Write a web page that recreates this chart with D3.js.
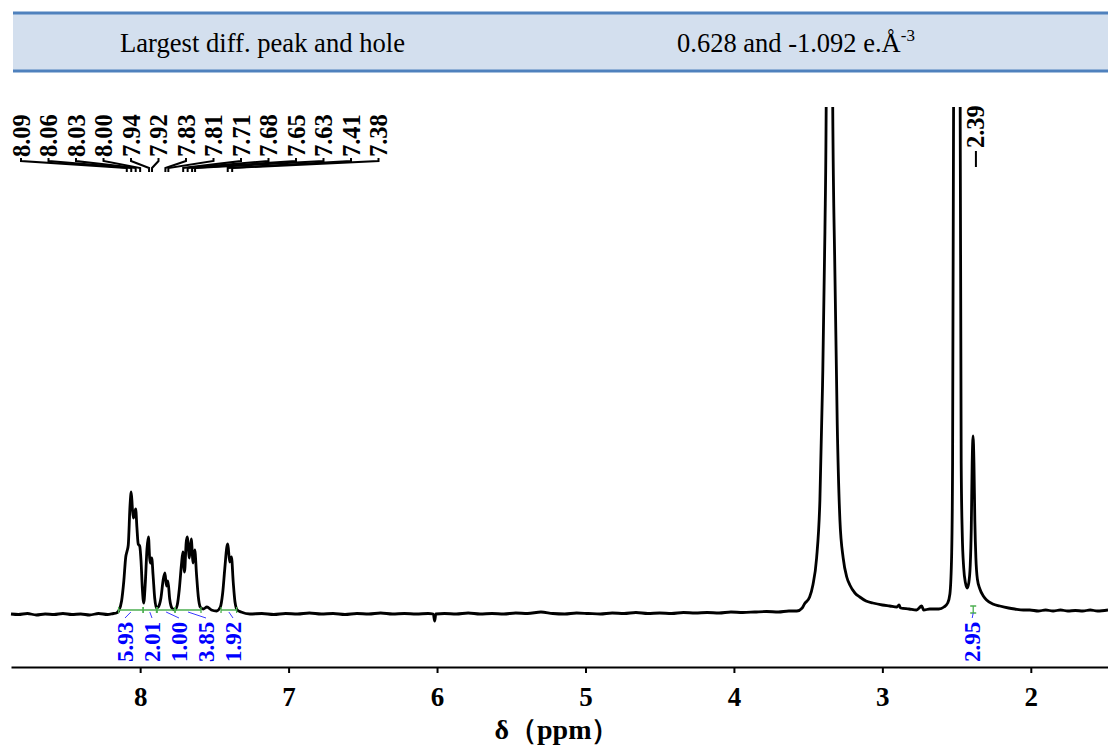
<!DOCTYPE html>
<html>
<head>
<meta charset="utf-8">
<script src="https://cdn.jsdelivr.net/npm/d3@7"></script>
<style>
  body { margin: 0; background: #fff; }
  svg { display: block; }
</style>
</head>
<body>
<svg id="chart" width="1108" height="747"></svg>
<script>
// ---- 1H NMR trace: chemical shift (ppm) and intensity ----
const shiftPpm = [
  8.87, 8.82, 8.76, 8.70, 8.64, 8.58, 8.52, 8.46, 8.40, 8.34, 8.28, 8.22, 8.18, 8.16,
  8.145, 8.125, 8.11, 8.097, 8.088, 8.080, 8.068, 8.060, 8.052, 8.045, 8.037, 8.030, 8.022, 8.013,
  8.003, 7.994, 7.985, 7.976, 7.966, 7.954, 7.944, 7.936, 7.930, 7.922, 7.913, 7.902, 7.890, 7.878,
  7.860, 7.845, 7.833, 7.823, 7.813, 7.801, 7.786, 7.766, 7.750, 7.736, 7.722, 7.712, 7.701, 7.690,
  7.683, 7.668, 7.656, 7.643, 7.632, 7.620, 7.608, 7.595, 7.575, 7.550, 7.520, 7.485, 7.460, 7.444,
  7.430, 7.416, 7.409, 7.397, 7.385, 7.373, 7.361, 7.346, 7.320,
  7.26, 7.18, 7.10, 7.02, 6.94, 6.86, 6.78, 6.70, 6.62, 6.54, 6.46, 6.38, 6.30, 6.22, 6.14, 6.06,
  6.025, 6.016, 6.008, 5.95, 5.87, 5.79, 5.71, 5.63, 5.55, 5.47, 5.39, 5.30, 5.22, 5.14, 5.06, 4.98,
  4.90, 4.82, 4.74, 4.66, 4.58, 4.50, 4.42, 4.34, 4.26, 4.18, 4.10, 4.02, 3.94, 3.86, 3.78, 3.70, 3.63,
  3.576, 3.54, 3.525, 3.49, 3.468, 3.443, 3.421, 3.403, 3.387, 3.378, 3.357, 3.335, 3.320, 3.304,
  3.286, 3.264, 3.240, 3.219, 3.185, 3.152, 3.11, 3.064, 3.00, 2.95, 2.902, 2.888, 2.877, 2.82, 2.77,
  2.735, 2.722, 2.68, 2.62, 2.585,
  2.56, 2.545, 2.533, 2.527, 2.520, 2.498, 2.476, 2.469, 2.462, 2.452, 2.440, 2.429, 2.418, 2.408,
  2.401, 2.395, 2.389, 2.383, 2.377, 2.370, 2.360, 2.343, 2.32, 2.298, 2.256, 2.209, 2.15, 2.108,
  2.05, 2.007, 1.95, 1.90, 1.85, 1.80, 1.75, 1.70, 1.65, 1.60, 1.55, 1.48
];
const intensity = [
  -1, -1.5, -0.5, -2, -1, -1.5, -0.5, -1.5, -1, -2, -0.5, -1.5, -0.5, 0,
  2, 12, 32, 56, 62, 68, 108, 121, 104, 95, 100, 104, 86, 69,
  67, 52, 24, 10, 28, 64, 76, 55, 50, 55, 38, 15, 5, 6,
  15, 33, 40, 27, 32, 14, 5, 3, 8, 24, 48, 61, 41, 70,
  76, 55, 74, 50, 63, 38, 16, 6, 4, 6, 3, 2, 6, 20,
  44, 66, 69, 51, 56, 31, 11, 3, 1,
  -1, -0.5, -1.5, -0.5, -1, 0, -1, -0.5, -1.5, -0.5, -1, 0, -1, -0.5, -1, -0.5,
  -1, -8, -1, -0.5, -1, 0, -1, -0.5, -1, 0, -0.5, 1, -0.5, -1, 0, -0.5,
  -1, 0, -0.5, 0.5, -0.5, 0, -0.5, 0.5, 0, 0.5, 0, 1, 0.5, 1, 1.5, 1, 2,
  2, 5, 9, 16, 28, 55, 112, 228, 381, 520, 2400, 520, 343, 189,
  93, 55, 36, 28, 20, 16, 12, 10, 8, 7, 6, 8, 5, 4, 3,
  7, 3, 4, 4, 6,
  10, 19, 60, 150, 520, 3000, 520, 150, 80, 45, 30, 25, 30, 48,
  85, 150, 177, 150, 92, 55, 34, 24, 17, 13, 9, 7, 5, 4,
  3, 3, 2, 3, 2, 3, 2, 2.5, 2, 3, 2, 3
];

// ---- peak picking ----
const multipletPeaks = ["8.09", "8.06", "8.03", "8.00", "7.94", "7.92", "7.83",
                        "7.81", "7.71", "7.68", "7.65", "7.63", "7.41", "7.38"];
const singletPeaks = ["2.39"];

// ---- integrals (ppm ranges and values) ----
const integralStart = [8.145, 7.980, 7.885, 7.765, 7.455];
const integralEnd   = [7.980, 7.890, 7.765, 7.590, 7.350];
const integralValue = ["5.93", "2.01", "1.00", "3.85", "1.92"];
const methylIntegral = { start: 2.400, end: 2.376, value: "2.95" };

// ---- axis ----
const xTickValues = [8, 7, 6, 5, 4, 3, 2];
const xTitle = "δ（ppm）";

// ---- table row above the spectrum ----
const rowLabel = "Largest diff. peak and hole";
const rowValue = "0.628 and -1.092 e.Å";
const rowValueSup = "-3";

// ================= drawing =================
const W = 1108, H = 747;
const svg = d3.select("#chart");
const serif = "'Liberation Serif', 'Times New Roman', serif";

// table strip
const band = svg.append("g");
band.append("rect").attr("x", 13).attr("y", 13).attr("width", W - 13).attr("height", 58)
  .attr("fill", "#d3dfee");
band.append("line").attr("x1", 13).attr("x2", W).attr("y1", 13).attr("y2", 13)
  .attr("stroke", "#4f81bd").attr("stroke-width", 3);
band.append("line").attr("x1", 13).attr("x2", W).attr("y1", 71).attr("y2", 71)
  .attr("stroke", "#4f81bd").attr("stroke-width", 3);
band.append("text").attr("x", 120).attr("y", 52)
  .attr("font-family", serif).attr("font-size", 26.5).attr("fill", "#000")
  .attr("textLength", 285).attr("lengthAdjust", "spacingAndGlyphs").text(rowLabel);
const valText = band.append("text").attr("x", 677).attr("y", 52)
  .attr("font-family", serif).attr("font-size", 26.5).attr("fill", "#000");
valText.append("tspan").text(rowValue);
valText.append("tspan").attr("dy", -11).attr("font-size", 17).text(rowValueSup);

// scales
const x = d3.scaleLinear().domain([8.87, 1.48]).range([11, W]);
const y = d3.scaleLinear().domain([0, 506]).range([613, 107]);
const axisY = 667;

// clip for the spectrum (tall peaks run off the top)
svg.append("defs").append("clipPath").attr("id", "plotClip")
  .append("rect").attr("x", 0).attr("y", 107).attr("width", W).attr("height", axisY - 107);

const trace = shiftPpm.map((p, i) => [p, intensity[i]]);
const line = d3.line().x(d => x(d[0])).y(d => y(d[1])).curve(d3.curveMonotoneX);
svg.append("path").datum(trace)
  .attr("clip-path", "url(#plotClip)")
  .attr("d", line)
  .attr("fill", "none").attr("stroke", "#000").attr("stroke-width", 2.8)
  .attr("stroke-linejoin", "round");

// x axis
const axis = d3.axisBottom(x).tickValues(xTickValues).tickFormat(d3.format("d"))
  .tickSizeInner(6).tickSizeOuter(0).tickPadding(14);
const gx = svg.append("g").attr("transform", `translate(0,${axisY})`).call(axis);
gx.select(".domain").attr("stroke", "#000").attr("stroke-width", 2.2);
gx.selectAll(".tick line").attr("stroke", "#000").attr("stroke-width", 2);
gx.selectAll(".tick text").attr("font-family", serif).attr("font-size", 27)
  .attr("font-weight", "bold").attr("fill", "#000");
svg.append("text").attr("x", 557).attr("y", 739).attr("text-anchor", "middle")
  .attr("font-family", serif).attr("font-size", 28).attr("font-weight", "bold")
  .text(xTitle);

// peak labels for the aromatic multiplets with converging leaders
const labelBottom = 157;
const peakG = svg.append("g");
multipletPeaks.forEach((lab, i) => {
  const lx = 21 + i * 27.5;
  const px = x(+lab);
  peakG.append("path")
    .attr("d", `M${lx},${labelBottom + 1}L${lx},${labelBottom + 4}L${px},${labelBottom + 11}L${px},${labelBottom + 15}`)
    .attr("fill", "none").attr("stroke", "#000").attr("stroke-width", 2);
  peakG.append("text")
    .attr("transform", `translate(${lx},${labelBottom}) rotate(-90)`)
    .attr("dy", "0.35em")
    .attr("font-family", serif).attr("font-size", 24.5).attr("font-weight", "bold")
    .text(lab);
});
singletPeaks.forEach(lab => {
  const px = x(+lab);
  const lx = px + 3;
  peakG.append("path")
    .attr("d", `M${lx},${labelBottom - 6}L${lx},${labelBottom + 10}`)
    .attr("fill", "none").attr("stroke", "#000").attr("stroke-width", 2);
  peakG.append("text")
    .attr("transform", `translate(${lx},${labelBottom - 9}) rotate(-90)`)
    .attr("dy", "0.35em")
    .attr("font-family", serif).attr("font-size", 24.5).attr("font-weight", "bold")
    .text(lab);
});

// integrals
const intG = svg.append("g");
const intY = 610;
const intLabelBottom = 662;
integralValue.forEach((v, i) => {
  const x0 = x(integralStart[i]), x1 = x(integralEnd[i]);
  const cx = (x0 + x1) / 2;
  const lx = 125 + i * 27;
  intG.append("path")
    .attr("d", `M${x0},${intY - 3}L${x0},${intY + 3}M${x0},${intY}L${x1},${intY}M${x1},${intY - 3}L${x1},${intY + 3}`)
    .attr("fill", "none").attr("stroke", "#4caf50").attr("stroke-width", 1.3);
  intG.append("path")
    .attr("d", `M${cx},${intY + 2}L${lx},${intY + 8}`)
    .attr("fill", "none").attr("stroke", "#3a3aff").attr("stroke-width", 1);
  intG.append("text")
    .attr("transform", `translate(${lx},${intLabelBottom}) rotate(-90)`)
    .attr("dy", "0.35em")
    .attr("font-family", serif).attr("font-size", 23).attr("font-weight", "bold")
    .attr("fill", "#0000ff").text(v);
});
{
  const x0 = x(methylIntegral.start), x1 = x(methylIntegral.end);
  const cx = (x0 + x1) / 2;
  intG.append("path")
    .attr("d", `M${cx - 3},${intY - 4}L${cx + 3},${intY - 4}M${cx},${intY - 4}L${cx},${intY + 3}M${cx - 3},${intY + 3}L${cx + 3},${intY + 3}`)
    .attr("fill", "none").attr("stroke", "#4caf50").attr("stroke-width", 1.3);
  intG.append("path")
    .attr("d", `M${cx},${intY + 3}L${cx - 1},${intY + 8}`)
    .attr("fill", "none").attr("stroke", "#3a3aff").attr("stroke-width", 1);
  intG.append("text")
    .attr("transform", `translate(${cx - 1},${intLabelBottom}) rotate(-90)`)
    .attr("dy", "0.35em")
    .attr("font-family", serif).attr("font-size", 23).attr("font-weight", "bold")
    .attr("fill", "#0000ff").text(methylIntegral.value);
}
</script>
</body>
</html>
